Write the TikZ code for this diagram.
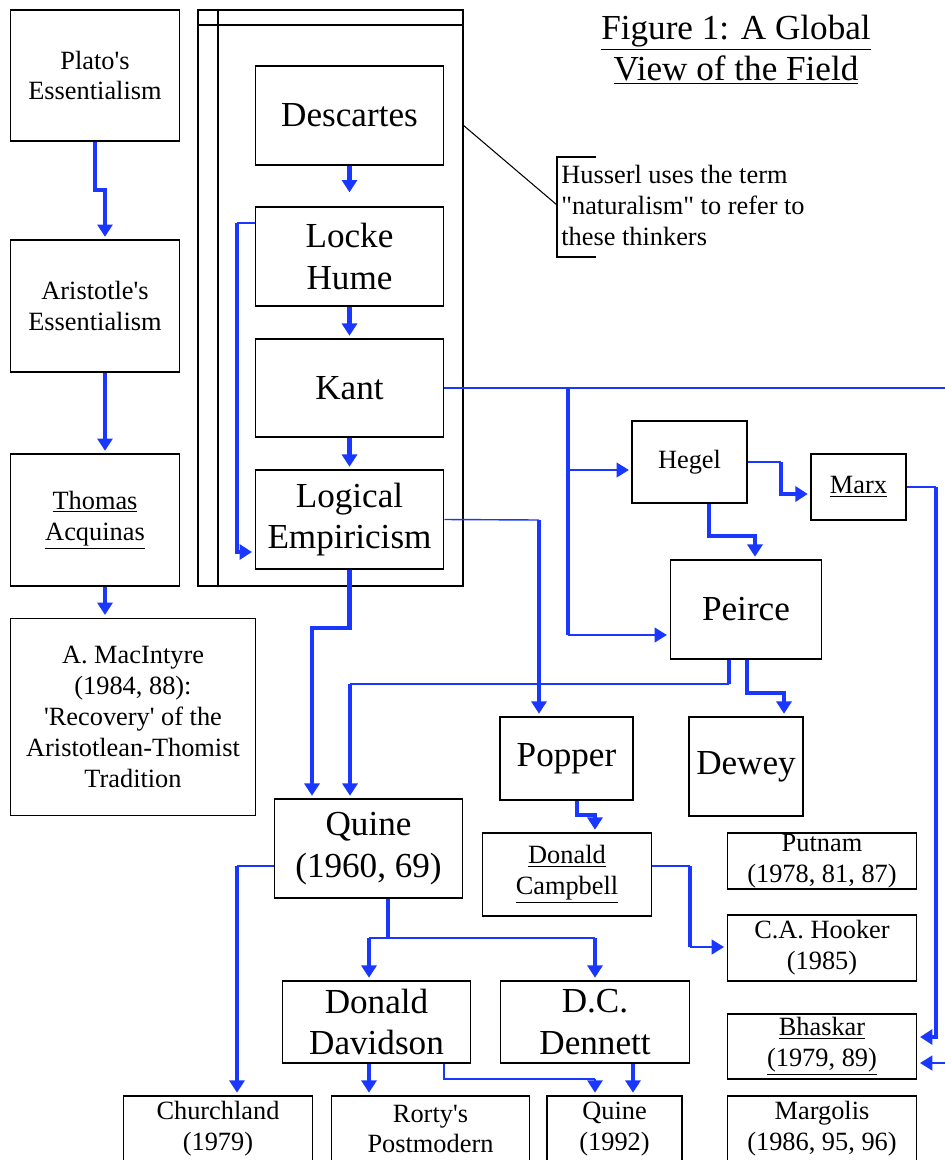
\documentclass[tikz,border=0pt]{standalone}
\usepackage{fontspec}
\setmainfont{Liberation Serif}
\usetikzlibrary{arrows.meta}
\definecolor{lblue}{RGB}{25,55,255}
\tikzset{
  box/.style={draw=black, line width=0.9pt, inner sep=0pt, align=center},
  big/.style={font=\fontsize{20}{23.5}\selectfont},
  small/.style={font=\fontsize{15}{17.6}\selectfont},
  thn/.style={draw=lblue, line width=0.8pt},
  mid/.style={draw=lblue, line width=1.4pt},
  thk/.style={draw=lblue, line width=2.3pt},
  tip/.style={-{Triangle[length=7pt,width=8.5pt]}, shorten >=1.5pt},
  framel/.style={draw=black, line width=0.9pt},
}
\newcommand{\sq}{\textquotesingle}
% \bx{style}{name}{x1}{y1}{x2}{y2}{text}
\newcommand{\bx}[7]{%
  \node[box,#1, minimum width={(#5-#3)*0.5669pt}, minimum height={(#6-#4)*0.5669pt}]
    (#2) at ({(#3+#5)/2},{(#4+#6)/2}) {#7};}
\begin{document}
\begin{tikzpicture}[x=0.02cm,y=-0.02cm]
\useasboundingbox (0,0) rectangle (945,1160);
% frame around the naturalism group
\draw[framel] (198,10) rectangle (463,586);
\draw[framel] (218,10) -- (218,586);
\draw[framel] (198,25) -- (463,25);
% title
\node[big, align=center, inner sep=0pt] (title) at (736,50)
  {\underline{Figure 1: A Global}\\\underline{View of the Field}};
% boxes
\bx{small}{plato}{10}{10}{180}{141}{Plato\sq s\\Essentialism}
\bx{small}{arist}{10}{240}{180}{372}{Aristotle\sq s\\Essentialism}
\bx{small}{thomas}{10}{454}{180}{586}{\underline{Thomas}\\\underline{Acquinas}}
\bx{small}{macint}{10}{618}{256}{816}{A. MacIntyre\\(1984, 88):\\\sq Recovery\sq{} of the\\Aristotlean-Thomist\\Tradition}
\bx{big}{desc}{255}{66}{444}{165}{Descartes}
\bx{big}{lh}{255}{207}{444}{306}{Locke\\Hume}
\bx{big}{kant}{255}{339}{444}{437}{Kant}
\bx{big}{le}{255}{470}{444}{569}{Logical\\Empiricism}
\bx{small}{hegel}{632}{421}{747}{503}{Hegel}
\bx{small}{marx}{811}{454}{906}{520}{\underline{Marx}}
\bx{big}{peirce}{670}{560}{822}{659}{Peirce}
\bx{big}{popper}{500}{717}{633}{800}{Popper}
\bx{big}{dewey}{689}{717}{803}{816}{Dewey}
\bx{big}{quine}{274}{799}{463}{898}{Quine\\(1960, 69)}
\bx{small}{campbell}{482}{833}{652}{916}{\underline{Donald}\\\underline{Campbell}}
\bx{small}{putnam}{727}{833}{917}{889}{Putnam\\(1978, 81, 87)}
\bx{small}{hooker}{727}{915}{917}{981}{C.A. Hooker\\(1985)}
\bx{small}{bhaskar}{727}{1014}{917}{1079}{\underline{Bhaskar}\\\underline{(1979, 89)}}
\bx{big}{davidson}{282}{981}{471}{1063}{Donald\\Davidson}
\bx{big}{dennett}{500}{981}{690}{1063}{D.C.\\Dennett}
\bx{small}{church}{123}{1096}{313}{1162}{Churchland\\(1979)}
\bx{small}{rorty}{331}{1096}{530}{1162}{Rorty\sq s\\Postmodern}
\bx{small}{quine92}{547}{1096}{682}{1162}{Quine\\(1992)}
\bx{small}{margolis}{727}{1096}{917}{1162}{Margolis\\(1986, 95, 96)}
% note
\node[small, align=left, anchor=north west, inner sep=0pt] (note) at (561,165)
  {Husserl uses the term\\\textquotedbl naturalism\textquotedbl{} to refer to\\these thinkers};
\coordinate (br) at (557,205);
\draw[black, line width=0.6pt] (463,125) -- (br);
\draw[framel] (596,157) -- (557,157) -- (557,257) -- (596,257);
% connectors
\draw[thk,tip] (plato.south) |- (105,190) -- (105,0 |- arist.north);
\draw[thk,tip] (105,0 |- arist.south) -- (105,0 |- thomas.north);
\draw[thk,tip] (105,0 |- thomas.south) -- (105,0 |- macint.north);
\draw[thk,-{Triangle[length=7pt,width=8.5pt]}, shorten >=8pt] (desc.south) -- (lh.north);
\draw[thk,tip] (lh.south) -- (kant.north);
\draw[thk,tip] (kant.south) -- (le.north);
\coordinate (fb) at (237,223);
\draw[thn] (lh.west |- fb) -- (fb);
\draw[thk,tip] (fb) |- (le.west |- 0,552);
% LE -> Quine
\draw[thk,tip] (le.south) |- (312,628) -- (312,0 |- quine.north);
% Peirce -> Quine
\coordinate (pq) at (729,684);
\draw[thk] (729,0 |- peirce.south) -- (pq);
\draw[thn] (pq) -- (350,684);
\draw[thk,tip] (350,684) -- (350,0 |- quine.north);
% Kant -> Bhaskar (round the right edge)
\draw[thn,tip] (kant.east) -- (960,388) |- (bhaskar.east |- 0,1063);
% trunk from Kant line
\coordinate (tr) at (568,388);
\draw[thk] (tr) -- (568,635);
\draw[thn,tip] (568,635) -- (peirce.west |- 0,635);
\draw[thn,tip] (568,470) -- (hegel.west |- 0,470);
% Hegel -> Marx
\coordinate (hm) at (781,462);
\draw[thn] (hegel.east) -- (hm);
\draw[thk,tip] (hm) |- (marx.west |- 0,494);
% Hegel -> Peirce
\draw[thk,tip] (709,0 |- hegel.south) |- (755,536) -- (755,0 |- peirce.north);
% Marx -> Bhaskar
\coordinate (mb) at (936,487);
\draw[thn] (marx.east) -- (mb);
\draw[thk,tip] (mb) |- (bhaskar.east |- 0,1037);
% LE -> Popper
\coordinate (lp) at (539,520);
\draw[thn] (le.east) -- (lp);
\draw[thk,tip] (lp) -- (539,0 |- popper.north);
% Peirce -> Dewey
\draw[thk,tip] (747,0 |- peirce.south) |- (784,693) -- (784,0 |- dewey.north);
% Popper -> Campbell
\draw[thk,tip] (577,0 |- popper.south) |- (595,815) -- (595,0 |- campbell.north);
% Campbell -> Hooker
\coordinate (ch1) at (690,866);
\coordinate (ch2) at (690,947);
\draw[thn] (campbell.east |- ch1) -- (ch1);
\draw[thk] (ch1) -- (ch2);
\draw[thn,tip] (ch2) -- (hooker.west |- ch2);
% Quine -> Churchland
\coordinate (qc) at (237,866);
\draw[thn] (quine.west |- qc) -- (qc);
\draw[thk,tip] (qc) -- (237,0 |- church.north);
% Quine -> Davidson, Dennett
\coordinate (qd) at (388,938);
\draw[thk] (388,0 |- quine.south) -- (qd);
\draw[mid] (369,938) -- (595,938);
\draw[thk,tip] (369,938) -- (369,0 |- davidson.north);
\draw[thk,tip] (595,938) -- (595,0 |- dennett.north);
% Davidson -> Rorty
\draw[thk,tip] (369,0 |- davidson.south) -- (369,0 |- rorty.north);
% Davidson -> Quine 1992
\draw[mid] (444,0 |- davidson.south) |- (595,1079);
\draw[mid,tip] (595,1079) -- (595,0 |- quine92.north);
% Dennett -> Quine 1992
\draw[thk,tip] (633,0 |- dennett.south) -- (633,0 |- quine92.north);
\end{tikzpicture}
\end{document}
